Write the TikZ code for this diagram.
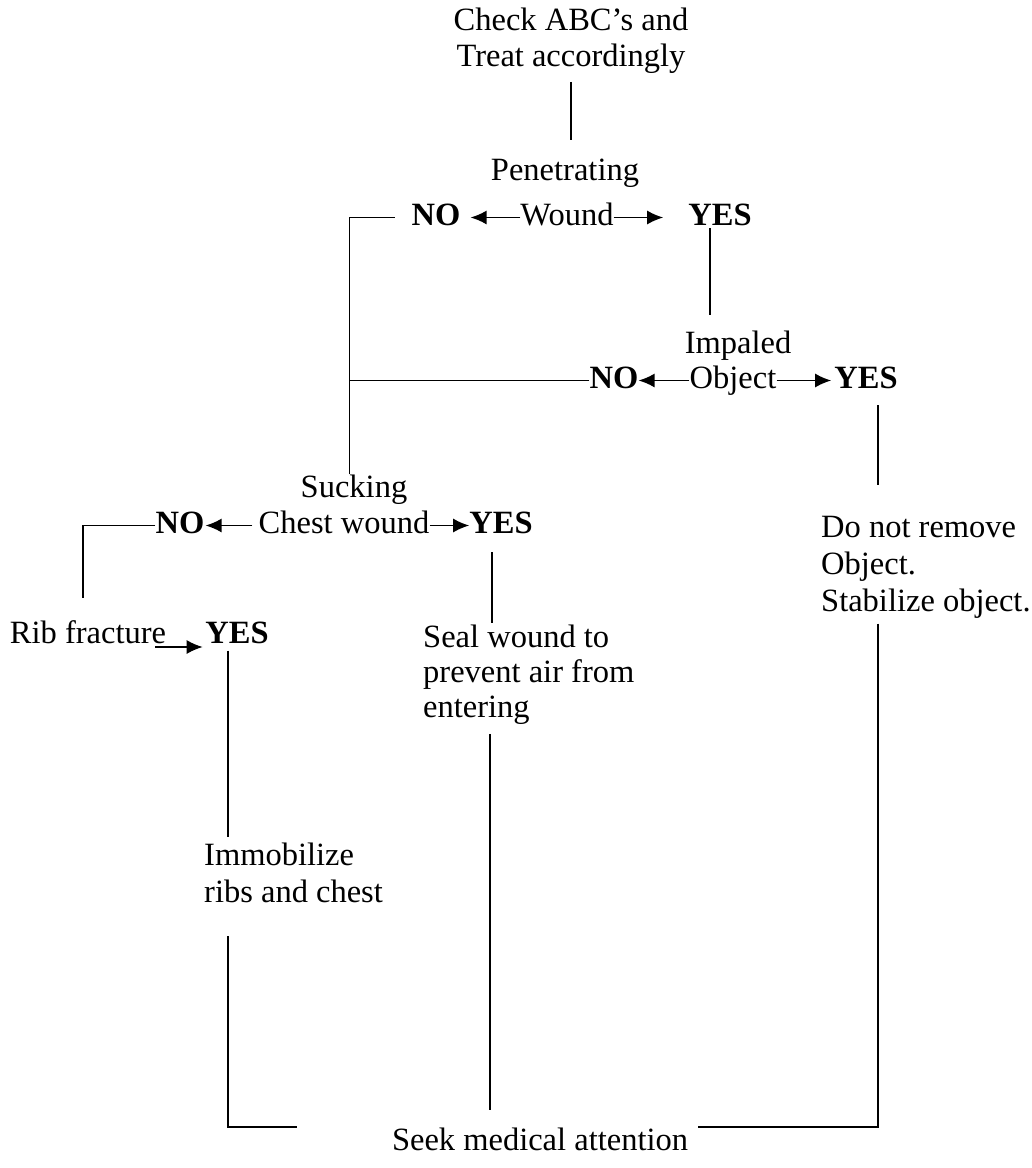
\documentclass[tikz,border=0pt]{standalone}
\usepackage{fontspec}
\setmainfont{Liberation Serif}
\usetikzlibrary{arrows.meta,calc}

\tikzset{
  txt/.style={inner sep=0pt, anchor=base, text height=22.5pt, text depth=7.5pt,
              font=\fontsize{32.5}{37}\selectfont},
  ans/.style={txt, font=\fontsize{32.5}{37}\selectfont\bfseries},
  para/.style={inner sep=0pt, align=left, anchor=north west,
               font=\fontsize{32.5}{37}\selectfont},
  link/.style={line width=1.6pt},
  arr/.style={line width=1.6pt, -{Latex[length=16pt,width=14pt]}}
}

\begin{document}
\begin{tikzpicture}[x=1pt,y=1pt]
\useasboundingbox (0,0) rectangle (1032,-1168);

% text of the flow chart
\node[inner sep=0pt, align=center, anchor=north, font=\fontsize{32.5}{36}\selectfont]
  (abc) at (571,-8) {Check ABC’s and\\Treat accordingly};
\node[txt] (pen)   at (565,-180) {Penetrating};
\node[txt] (wound) at (567,-225) {Wound};
\node[ans] (no1)   at (436,-225) {NO};
\node[ans] (yes1)  at (720,-225) {YES};

\node[txt] (imp)   at (738,-353) {Impaled};
\node[txt] (obj)   at (733,-388) {Object};
\node[ans] (no2)   at (614,-388) {NO};
\node[ans] (yes2)  at (866,-388) {YES};

\node[txt] (suck)  at (354,-497) {Sucking};
\node[txt] (chest) at (344,-533) {Chest wound};
\node[ans] (no3)   at (180,-533) {NO};
\node[ans] (yes3)  at (501,-533) {YES};

\node[para] (donot) at (821,-516) {Do not remove\\Object.\\Stabilize object.};

\node[txt] (rib)   at (88,-643) {Rib fracture};
\node[ans] (yes4)  at (237,-643) {YES};

\node[para, font=\fontsize{32.5}{35}\selectfont] (seal) at (423,-625) {Seal wound to\\prevent air from\\entering};
\node[para] (immob) at (204,-843) {Immobilize\\ribs and chest};

\node[txt] (seek)  at (540,-1150) {Seek medical attention};

% connectors
\draw[link, shorten <=8pt, shorten >=17.5pt] (abc.south) -- (abc.south |- pen.north);

\draw[arr, shorten >=10pt] (wound.west) -- (no1.east);
\draw[arr, shorten >=25pt] (wound.east) -- (yes1.west);

\coordinate (trunk) at ([xshift=-62pt]no1.west);
\draw[link, shorten <=16.5pt] (no1.west) -- (trunk) -- (trunk |- suck.north);
\draw[link] (no2.west) -- (no2.west -| trunk);

\draw[link, shorten <=-4.5pt, shorten >=15.5pt] ([xshift=-10pt]yes1.south) -- ([xshift=-10pt]yes1.south |- imp.north);

\draw[arr] (obj.west) -- (no2.east);
\draw[arr, shorten >=3pt] (obj.east) -- (yes2.west);

\draw[link, shorten <=9.5pt, shorten >=31pt] ([xshift=12pt]yes2.south) -- ([xshift=12pt]yes2.south |- donot.north);

\draw[arr, shorten <=6pt, shorten >=1pt] (chest.west) -- (no3.east);
\draw[arr] (chest.east) -- (yes3.west);

\draw[link, shorten >=22.5pt] (no3.west) -| ([xshift=-5pt]rib.north);

\draw[link, shorten <=11.5pt, shorten >=2pt] ([xshift=-9pt]yes3.south) -- ([xshift=-9pt]yes3.south |- seal.north);

\draw[arr, shorten >=2.5pt] ([xshift=-11pt,yshift=-11.5pt]rib.east) -- ([yshift=-11.5pt]yes4.west);

\draw[link, shorten >=6pt] ([xshift=-9pt]yes4.south) -- ([xshift=-9pt]yes4.south |- immob.north);

\draw[link, shorten <=9pt, shorten >=17.5pt] ([xshift=-11pt]yes3.south |- seal.south) -- ([xshift=-11pt]yes3.south |- seek.north);

\draw[link, shorten <=33pt, shorten >=95pt] ([xshift=-9pt]yes4.south |- immob.south) |- ([yshift=15.5pt]seek.west);

\draw[link, shorten <=5pt, shorten >=10pt] ([xshift=12pt]yes2.south |- donot.south) |- ([yshift=15.5pt]seek.east);
\end{tikzpicture}
\end{document}
